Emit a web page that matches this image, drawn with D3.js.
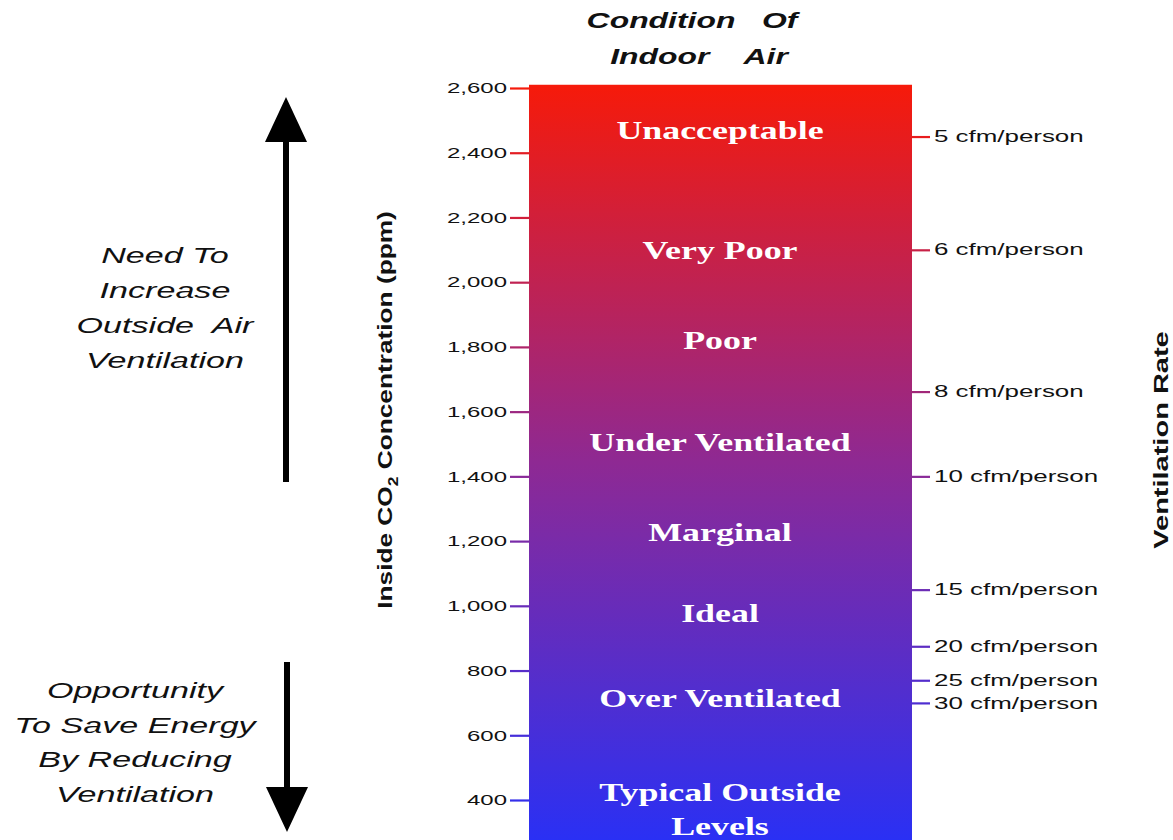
<!DOCTYPE html>
<html>
<head>
<meta charset="utf-8">
<script src="https://cdn.jsdelivr.net/npm/d3@7"></script>
<style>
  body { margin: 0; background: #fff; }
  svg { display: block; }
</style>
</head>
<body>
<div id="canvas"></div>
<script>
// ppm ticks on the left axis
const ppmTicks = [400, 600, 800, 1000, 1200, 1400, 1600, 1800, 2000, 2200, 2400, 2600];
// ventilation rate marks on the right (cfm per person -> ppm)
const cfmRates = [5, 6, 8, 10, 15, 20, 25, 30];
const cfmPpm = [2450, 2100, 1662, 1400, 1050, 875, 770, 700];
// condition bands written inside the bar
const conditions = ["Unacceptable", "Very Poor", "Poor", "Under Ventilated", "Marginal", "Ideal", "Over Ventilated", "Typical Outside", "Levels"];
const conditionPpm = [2470, 2100, 1821, 1506, 1228, 978, 715, 425, 320];

const width = 1173, height = 840;
const barLeft = 529, barRight = 912;

const svg = d3.select("#canvas").append("svg")
    .attr("width", width)
    .attr("height", height);

// the original lettering is stretched sideways, do the same
function wide(sel, sx) {
    sel.each(function() {
        const t = d3.select(this);
        const x = +t.attr("x") || 0, yy = +t.attr("y") || 0;
        t.attr("x", 0).attr("y", 0)
            .attr("transform", `translate(${x},${yy}) scale(${sx},1)`);
    });
}

const y = d3.scaleLinear()
    .domain([400, 2600])
    .range([800, 88]);

// colour along the bar, red on top to blue at bottom
const col = d3.scaleLinear()
    .domain([y.invert(height), 1400, 2610])
    .range(["#2a30f4", "#8a2a98", "#f61a0a"]);

const defs = svg.append("defs");
const grad = defs.append("linearGradient")
    .attr("id", "co2grad")
    .attr("x1", 0).attr("x2", 0).attr("y1", 0).attr("y2", 1);
d3.range(0, 1.0001, 0.1).forEach(t => {
    grad.append("stop")
        .attr("offset", t)
        .attr("stop-color", col(y.invert(y(2610) + t * (height - y(2610)))));
});

svg.append("rect")
    .attr("x", barLeft)
    .attr("y", y(2610))
    .attr("width", barRight - barLeft)
    .attr("height", height - y(2610))
    .attr("fill", "url(#co2grad)");

// left axis
const yAxis = svg.append("g")
    .attr("transform", `translate(${barLeft},0)`)
    .call(d3.axisLeft(y).tickValues(ppmTicks).tickFormat(d3.format(",")).tickSize(19).tickPadding(3));
yAxis.select(".domain").remove();
yAxis.selectAll(".tick line")
    .attr("stroke", d => col(d))
    .attr("stroke-width", 2.2);
yAxis.selectAll(".tick text")
    .attr("font-family", "Liberation Sans, Arial, sans-serif")
    .attr("font-size", 15)
    .attr("fill", "#111")
    .call(wide, 1.6);

// right axis with ventilation rates
const rAxis = svg.append("g")
    .attr("transform", `translate(${barRight},0)`)
    .call(d3.axisRight(y).tickValues(cfmPpm)
        .tickFormat((d, i) => cfmRates[i] + " cfm/person")
        .tickSize(18).tickPadding(4));
rAxis.select(".domain").remove();
rAxis.selectAll(".tick line")
    .attr("stroke", d => col(d))
    .attr("stroke-width", 2.2);
rAxis.selectAll(".tick text")
    .attr("font-family", "Liberation Sans, Arial, sans-serif")
    .attr("font-size", 16)
    .attr("fill", "#111")
    .call(wide, 1.62);

// labels inside the bar
svg.append("g").selectAll("text")
    .data(conditions)
    .enter().append("text")
    .attr("x", 720)
    .attr("y", (d, i) => y(conditionPpm[i]) + 9)
    .attr("text-anchor", "middle")
    .attr("font-family", "Liberation Serif, 'Times New Roman', serif")
    .attr("font-weight", "bold")
    .attr("font-size", 26)
    .attr("fill", "#fff")
    .text(d => d)
    .call(wide, 1.38);

// title above the bar
[["Condition   Of", 692, 28], ["Indoor    Air", 699, 64]].forEach(([s, x, yy]) => {
    svg.append("text")
        .attr("x", x).attr("y", yy)
        .attr("text-anchor", "middle")
        .attr("xml:space", "preserve")
        .attr("font-family", "Liberation Sans, Arial, sans-serif")
        .attr("font-weight", "bold")
        .attr("font-style", "italic")
        .attr("font-size", 22)
        .attr("fill", "#111")
        .text(s)
        .call(wide, 1.45);
});

// axis titles
const yl = svg.append("text")
    .attr("transform", `translate(392,410) rotate(-90) scale(1.25,1)`)
    .attr("text-anchor", "middle")
    .attr("font-family", "Liberation Sans, Arial, sans-serif")
    .attr("font-weight", "bold")
    .attr("font-size", 21)
    .attr("fill", "#111");
yl.append("tspan").text("Inside CO");
yl.append("tspan").attr("font-size", 14).attr("dy", 6).text("2");
yl.append("tspan").attr("dy", -6).text(" Concentration (ppm)");

svg.append("text")
    .attr("transform", `translate(1168,440) rotate(-90) scale(1.45,1)`)
    .attr("text-anchor", "middle")
    .attr("font-family", "Liberation Sans, Arial, sans-serif")
    .attr("font-weight", "bold")
    .attr("font-size", 20)
    .attr("fill", "#111")
    .text("Ventilation Rate");

// arrows on the left
function arrow(x, y0, y1) {
    const dir = y1 < y0 ? -1 : 1;
    const headLen = 45, headW = 21;
    svg.append("line")
        .attr("x1", x).attr("x2", x)
        .attr("y1", y0).attr("y2", y1 - dir * headLen + dir * 2)
        .attr("stroke", "#000").attr("stroke-width", 6);
    svg.append("path")
        .attr("d", `M${x - headW},${y1 - dir * headLen} L${x + headW},${y1 - dir * headLen} L${x},${y1} Z`)
        .attr("fill", "#000");
}
arrow(286, 482, 97);
arrow(287, 662, 832);

function block(lines, cx, y0, step) {
    lines.forEach((l, i) => {
        svg.append("text")
            .attr("x", cx).attr("y", y0 + i * step)
            .attr("text-anchor", "middle")
            .attr("xml:space", "preserve")
            .attr("font-family", "Liberation Sans, Arial, sans-serif")
            .attr("font-style", "italic")
            .attr("font-size", 22)
            .attr("fill", "#111")
            .text(l)
            .call(wide, 1.55);
    });
}
block(["Need To", "Increase", "Outside  Air", "Ventilation"], 165, 263, 35);
block(["Opportunity", "To Save Energy", "By Reducing", "Ventilation"], 135, 698, 34.5);
</script>
</body>
</html>
